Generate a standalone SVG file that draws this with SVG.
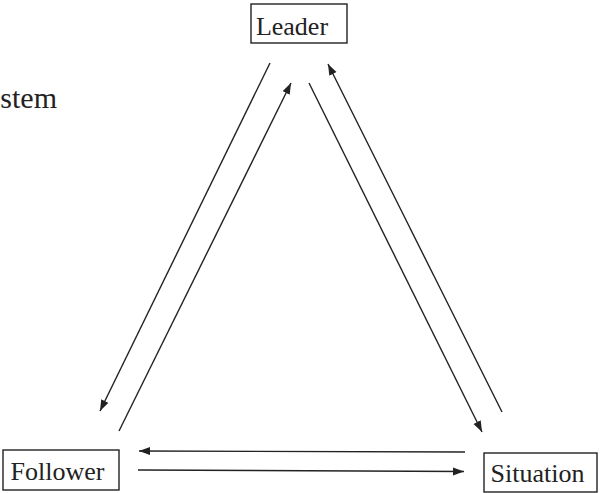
<svg xmlns="http://www.w3.org/2000/svg" width="602" height="493" viewBox="0 0 602 493">
<style>
.box{fill:none;stroke:#222;stroke-width:1.4}
.lbl{font-family:"Liberation Serif","Times New Roman",serif;font-size:26px;fill:#222}
.edge{fill:none;stroke:#222;stroke-width:1.4;marker-end:url(#ah)}
</style>
<defs>
<marker id="ah" markerUnits="userSpaceOnUse" markerWidth="12" markerHeight="9" refX="11" refY="4" orient="auto">
<path d="M0,0 L11,4 L0,8 Z" fill="#222"/>
</marker>
</defs>
<rect width="602" height="493" fill="#fff"/>
<text class="lbl" x="57" y="108" text-anchor="end" style="font-size:30px">stem</text>
<g id="leader">
<rect class="box" x="251" y="4" width="96" height="39"/>
<text class="lbl" x="292" y="35" text-anchor="middle">Leader</text>
</g>
<g id="follower">
<rect class="box" x="3" y="450" width="116" height="40"/>
<text class="lbl" x="57.5" y="480" text-anchor="middle">Follower</text>
</g>
<g id="situation">
<rect class="box" x="484" y="453" width="113" height="39"/>
<text class="lbl" x="537.5" y="482" text-anchor="middle">Situation</text>
</g>
<g id="connectors">
<line class="edge" x1="270" y1="63" x2="100" y2="411"/>
<line class="edge" x1="119" y1="431" x2="291" y2="83"/>
<line class="edge" x1="309" y1="83" x2="482" y2="432"/>
<line class="edge" x1="502" y1="412" x2="328" y2="64"/>
<line class="edge" x1="465" y1="452" x2="139" y2="451"/>
<line class="edge" x1="138" y1="470" x2="464" y2="471.5"/>
</g>
</svg>
